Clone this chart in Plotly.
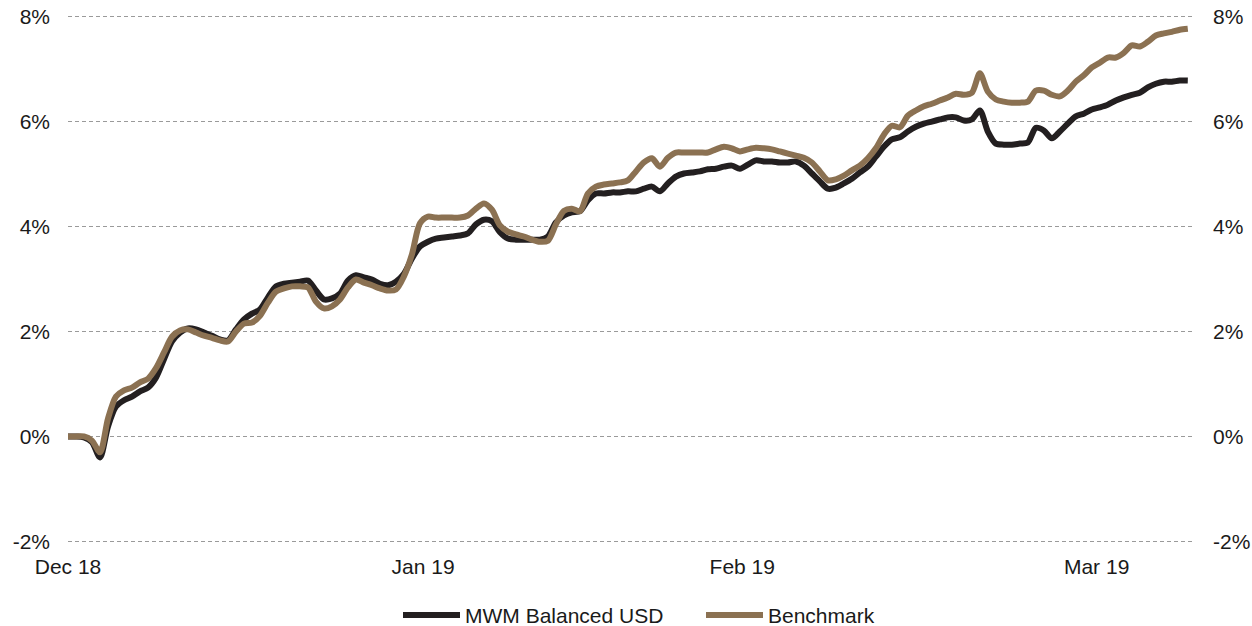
import plotly.graph_objects as go

# Cumulative performance (%), sampled at regular steps along the period
mwm_balanced_usd = [
    0.00, 0.00, -0.02, -0.11, -0.40, 0.19, 0.57, 0.69, 0.76, 0.86,
    0.93, 1.12, 1.47, 1.81, 1.98, 2.06, 2.04, 1.98, 1.92, 1.85,
    1.83, 2.04, 2.23, 2.34, 2.42, 2.65, 2.86, 2.91, 2.93, 2.95,
    2.97, 2.78, 2.61, 2.63, 2.72, 2.97, 3.07, 3.03, 2.99, 2.91,
    2.88, 2.95, 3.10, 3.39, 3.62, 3.71, 3.77, 3.79, 3.81, 3.83,
    3.87, 4.04, 4.13, 4.10, 3.89, 3.77, 3.75, 3.75, 3.75, 3.75,
    3.81, 4.08, 4.21, 4.27, 4.29, 4.50, 4.63, 4.63, 4.65, 4.65,
    4.67, 4.67, 4.72, 4.76, 4.67, 4.82, 4.95, 5.01, 5.03, 5.05,
    5.09, 5.10, 5.14, 5.16, 5.10, 5.18, 5.26, 5.24, 5.24, 5.22,
    5.22, 5.24, 5.16, 5.01, 4.86, 4.72, 4.74, 4.82, 4.91, 5.03,
    5.14, 5.33, 5.52, 5.66, 5.70, 5.81, 5.90, 5.96, 6.00, 6.04,
    6.08, 6.08, 6.02, 6.04, 6.21, 5.81, 5.58, 5.56, 5.56, 5.58,
    5.60, 5.88, 5.83, 5.68, 5.81, 5.96, 6.10, 6.15, 6.23, 6.27,
    6.32, 6.40, 6.46, 6.51, 6.55, 6.65, 6.72, 6.76, 6.76, 6.78,
    6.78,
]
benchmark = [
    0.00, 0.00, 0.00, -0.08, -0.30, 0.34, 0.76, 0.88, 0.93, 1.03,
    1.10, 1.30, 1.60, 1.90, 2.02, 2.04, 1.98, 1.92, 1.88, 1.83,
    1.81, 2.00, 2.15, 2.17, 2.30, 2.55, 2.76, 2.82, 2.86, 2.86,
    2.84, 2.57, 2.44, 2.48, 2.61, 2.84, 2.99, 2.93, 2.88, 2.82,
    2.78, 2.80, 3.05, 3.47, 4.06, 4.19, 4.17, 4.17, 4.17, 4.17,
    4.21, 4.34, 4.44, 4.32, 4.02, 3.90, 3.85, 3.81, 3.75, 3.71,
    3.73, 4.04, 4.30, 4.34, 4.29, 4.63, 4.76, 4.80, 4.82, 4.84,
    4.88, 5.05, 5.22, 5.30, 5.14, 5.31, 5.41, 5.41, 5.41, 5.41,
    5.41, 5.47, 5.52, 5.49, 5.43, 5.47, 5.50, 5.49, 5.47, 5.43,
    5.39, 5.35, 5.31, 5.22, 5.05, 4.88, 4.90, 4.97, 5.07, 5.16,
    5.30, 5.49, 5.75, 5.92, 5.89, 6.11, 6.21, 6.29, 6.34, 6.40,
    6.46, 6.53, 6.51, 6.55, 6.92, 6.57, 6.42, 6.38, 6.36, 6.36,
    6.38, 6.59, 6.59, 6.51, 6.48, 6.59, 6.76, 6.88, 7.03, 7.12,
    7.22, 7.22, 7.31, 7.45, 7.43, 7.52, 7.64, 7.68, 7.71, 7.75,
    7.77,
]
steps = list(range(len(mwm_balanced_usd)))

month_tick_positions = [0, 44.4, 84.3, 128.6]
month_tick_labels = ["Dec 18", "Jan 19", "Feb 19", "Mar 19"]

y_tick_values = [-2, 0, 2, 4, 6, 8]
y_tick_labels = ["-2%", "0%", "2%", "4%", "6%", "8%"]

BLACK = "#231f20"
BROWN = "#8b7152"
FONT = dict(family="Liberation Sans, Arial, sans-serif", size=21, color="#1a1a1a")

fig = go.Figure()
fig.add_trace(go.Scatter(
    x=steps, y=mwm_balanced_usd, name="MWM Balanced USD", mode="lines",
    line=dict(color=BLACK, width=6, shape="spline", smoothing=0.8),
    hoverinfo="skip",
))
fig.add_trace(go.Scatter(
    x=steps, y=benchmark, name="Benchmark", mode="lines",
    line=dict(color=BROWN, width=6, shape="spline", smoothing=0.8),
    hoverinfo="skip",
))
# invisible trace to carry the mirrored right-hand axis
fig.add_trace(go.Scatter(
    x=steps, y=benchmark, yaxis="y2", mode="lines", showlegend=False,
    line=dict(color="rgba(0,0,0,0)", width=0), hoverinfo="skip",
))

axis_common = dict(
    range=[-2.03, 8.03], tickvals=y_tick_values, ticktext=y_tick_labels,
    tickfont=FONT, zeroline=False, showline=False, ticks="",
    ticklabelstandoff=17, automargin=False, ticklabeloverflow="allow",
)

fig.update_layout(
    width=1252, height=626,
    margin=dict(l=68, r=57, t=15, b=83, autoexpand=False),
    paper_bgcolor="white", plot_bgcolor="white",
    font=FONT,
    xaxis=dict(
        range=[0, 140.9], tickvals=month_tick_positions, ticktext=month_tick_labels,
        tickfont=FONT, showgrid=False, zeroline=False, showline=False, ticks="",
        ticklabelstandoff=9, automargin=False, ticklabeloverflow="allow",
    ),
    yaxis=dict(
        **axis_common, side="left",
        showgrid=True, gridcolor="#9a9a9a", gridwidth=1, griddash="4px,3px",
    ),
    yaxis2=dict(
        **axis_common, side="right", overlaying="y", showgrid=False,
    ),
    legend=dict(
        orientation="h", x=(398 - 68) / 1127, xanchor="left", y=-0.137, yanchor="middle",
        font=FONT, itemwidth=57, entrywidth=231, entrywidthmode="pixels",
        traceorder="normal",
    ),
    showlegend=True,
)

# remove the default page margin so the figure fills the window exactly
fig.write_html(
    "out.html",
    config={"displayModeBar": False},
    post_script="document.body.style.margin='0';",
)
